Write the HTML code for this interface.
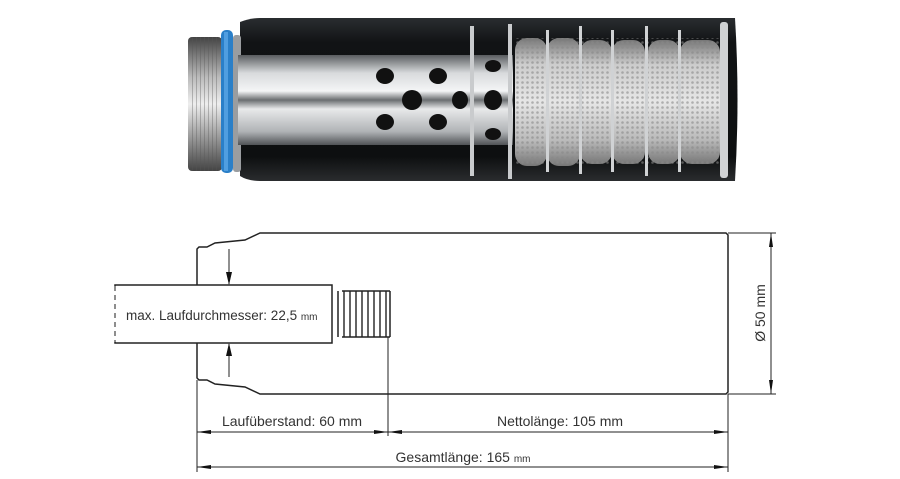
<!DOCTYPE html>
<html><head><meta charset="utf-8"><style>
html,body{margin:0;padding:0;background:#fff;}
svg{display:block;}
text{font-family:"Liberation Sans",sans-serif;fill:#333;}
</style></head><body>
<svg width="900" height="479" viewBox="0 0 900 479" xmlns="http://www.w3.org/2000/svg">
<defs>
<linearGradient id="blk" x1="0" y1="0" x2="0" y2="1">
<stop offset="0" stop-color="#2a2d30"/><stop offset="0.15" stop-color="#111315"/><stop offset="0.85" stop-color="#0d0f10"/><stop offset="1" stop-color="#2a2c2e"/></linearGradient>
<linearGradient id="steel" x1="0" y1="0" x2="0" y2="1">
<stop offset="0" stop-color="#5a5d60"/><stop offset="0.2" stop-color="#d8dadc"/><stop offset="0.4" stop-color="#f4f5f6"/><stop offset="0.5" stop-color="#6a6d70"/><stop offset="0.6" stop-color="#e8e9ea"/><stop offset="0.85" stop-color="#b0b3b6"/><stop offset="1" stop-color="#505356"/></linearGradient>
<linearGradient id="thr" x1="0" y1="0" x2="0" y2="1">
<stop offset="0" stop-color="#444"/><stop offset="0.3" stop-color="#bbb"/><stop offset="0.5" stop-color="#eee"/><stop offset="0.7" stop-color="#aaa"/><stop offset="1" stop-color="#444"/></linearGradient>
<linearGradient id="mesh" x1="0" y1="0" x2="0" y2="1">
<stop offset="0" stop-color="#777"/><stop offset="0.2" stop-color="#ccc"/><stop offset="0.5" stop-color="#e6e6e6"/><stop offset="0.8" stop-color="#bbb"/><stop offset="1" stop-color="#777"/></linearGradient>
<pattern id="thp" width="4" height="4" patternUnits="userSpaceOnUse"><rect width="4" height="4" fill="none"/><line x1="0" y1="0" x2="0" y2="4" stroke="#555" stroke-width="1"/></pattern>
<pattern id="mp" width="5" height="5" patternUnits="userSpaceOnUse"><circle cx="2.5" cy="2.5" r="1.3" fill="#888" opacity="0.6"/></pattern>
</defs>
<path d="M240 22 Q250 18 260 18 L735 18 Q740 99 735 181 L260 181 Q248 181 240 176 Z" fill="url(#blk)"/>
<rect x="188" y="37" width="34" height="134" rx="4" fill="url(#thr)"/>
<rect x="190" y="37" width="30" height="134" fill="url(#thp)" opacity="0.7"/>
<rect x="221" y="30" width="12" height="143" rx="5" fill="#2a7fc8"/>
<rect x="224" y="32" width="4" height="139" fill="#5aa6e6" opacity="0.8"/>
<rect x="233" y="35" width="8" height="137" rx="3" fill="#9a9da0"/>
<rect x="238" y="55" width="275" height="90" fill="url(#steel)"/>
<g fill="#111">
<ellipse cx="385" cy="76" rx="9" ry="8"/><ellipse cx="385" cy="122" rx="9" ry="8"/>
<ellipse cx="412" cy="100" rx="10" ry="10"/>
<ellipse cx="438" cy="76" rx="9" ry="8"/><ellipse cx="438" cy="122" rx="9" ry="8"/>
<ellipse cx="460" cy="100" rx="8" ry="9"/>
<ellipse cx="493" cy="100" rx="9" ry="10"/>
<ellipse cx="493" cy="66" rx="8" ry="6"/><ellipse cx="493" cy="134" rx="8" ry="6"/>
</g>
<rect x="470" y="26" width="4" height="150" fill="#c9cbcd"/>
<rect x="508" y="24" width="4" height="155" fill="#c9cbcd"/>
<g fill="url(#mesh)">
<rect x="515" y="38" width="32" height="128" rx="12"/>
<rect x="547" y="38" width="33" height="128" rx="12"/>
<rect x="580" y="40" width="32" height="124" rx="12"/>
<rect x="612" y="40" width="33" height="124" rx="12"/>
<rect x="648" y="40" width="32" height="124" rx="12"/>
<rect x="680" y="40" width="40" height="124" rx="12"/>
</g>
<g fill="url(#mp)"><rect x="515" y="38" width="205" height="128"/></g>
<g fill="#d0d2d4">
<rect x="546" y="30" width="3" height="142"/><rect x="579" y="26" width="3" height="148"/>
<rect x="611" y="30" width="3" height="142"/><rect x="645" y="26" width="3" height="150"/>
<rect x="678" y="30" width="3" height="142"/>
<rect x="720" y="22" width="8" height="156" rx="3"/>
</g>
<g fill="none" stroke="#222" stroke-width="1.5">
<path d="M199 380 L197 378 L197 249 L199 247 L207 247 L215 243 L245 240 L260 233 L726 233 L728 235 L728 392 L726 394 L260 394 L245 387 L215 384 L207 380 Z"/>
<rect x="115" y="285" width="217" height="58" fill="#fff"/>
<path d="M338 291 L338 337 M390 291 L390 337"/>
</g>
<line x1="115" y1="286" x2="115" y2="342" stroke="#fff" stroke-width="2"/>
<line x1="115" y1="286" x2="115" y2="342" stroke="#444" stroke-width="1.2" stroke-dasharray="5,4"/>
<g stroke="#222" stroke-width="1.4">
<path d="M342 291 L390 291 M342 337 L390 337"/>
<path d="M344 291 L344 337 M350 291 L350 337 M356 291 L356 337 M362 291 L362 337 M368 291 L368 337 M374 291 L374 337 M380 291 L380 337 M386 291 L386 337"/>
</g>
<g stroke="#222" stroke-width="1">
<line x1="229" y1="249" x2="229" y2="284"/><line x1="229" y1="344" x2="229" y2="377"/>
<line x1="197" y1="380" x2="197" y2="472"/><line x1="388" y1="337" x2="388" y2="436"/>
<line x1="728" y1="394" x2="728" y2="472"/>
<line x1="197" y1="432" x2="728" y2="432"/><line x1="197" y1="467" x2="728" y2="467"/>
<line x1="728" y1="233" x2="776" y2="233"/><line x1="728" y1="394" x2="776" y2="394"/>
<line x1="771" y1="233" x2="771" y2="394"/>
</g>
<g fill="#111">
<polygon points="226,272 232,272 229,285"/><polygon points="226,356 232,356 229,343"/>
<polygon points="197,432 211,430 211,434"/><polygon points="388,432 374,430 374,434"/>
<polygon points="388,432 402,430 402,434"/><polygon points="728,432 714,430 714,434"/>
<polygon points="197,467 211,465 211,469"/><polygon points="728,467 714,465 714,469"/>
<polygon points="771,233 769,247 773,247"/><polygon points="771,394 769,380 773,380"/>
</g>
<text x="126" y="320" font-size="13.5">max. Laufdurchmesser: 22,5 <tspan font-size="10">mm</tspan></text>
<text x="292" y="426" font-size="14" text-anchor="middle">Laufüberstand: 60 mm</text>
<text x="560" y="426" font-size="14" text-anchor="middle">Nettolänge: 105 mm</text>
<text x="463" y="462" font-size="14" text-anchor="middle">Gesamtlänge: 165 <tspan font-size="10">mm</tspan></text>
<text x="0" y="0" font-size="14" text-anchor="middle" transform="translate(765 313) rotate(-90)">Ø 50 mm</text>
</svg>
</body></html>
